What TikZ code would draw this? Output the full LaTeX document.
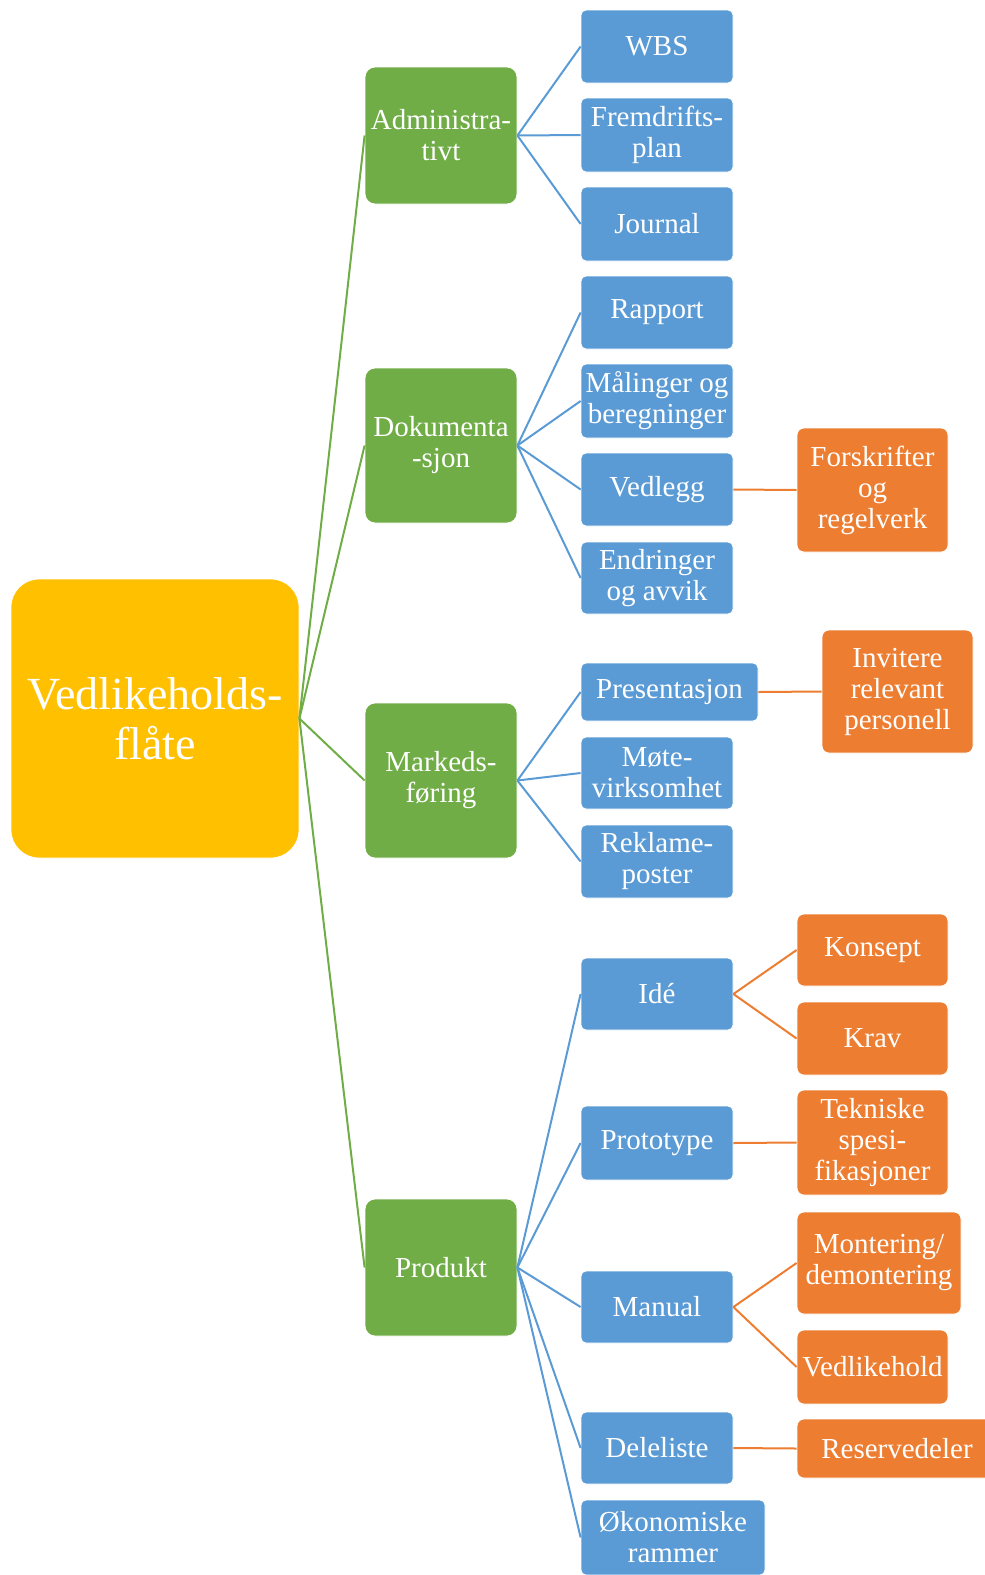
\documentclass[tikz,border=0pt]{standalone}
\usepackage{fontspec}
\setmainfont{Liberation Serif}
\definecolor{cyel}{HTML}{FFC000}
\definecolor{cgrn}{HTML}{70AD47}
\definecolor{cblu}{HTML}{5B9BD5}
\definecolor{corg}{HTML}{ED7D31}
\begin{document}
\begin{tikzpicture}[x=1pt,y=-1pt,
  base/.style={draw=white,line width=0.8pt,text=white,align=center,inner sep=0pt,font=\fontsize{29}{31}\selectfont},
  rootbox/.style={base,fill=cyel,rounded corners=28pt,minimum width=288pt,minimum height=279pt,font=\fontsize{46}{50}\selectfont},
  grnbox/.style={base,fill=cgrn,rounded corners=10pt,minimum width=152pt},
  blubox/.style={base,fill=cblu,rounded corners=5pt,minimum width=152pt},
  orgbox/.style={base,fill=corg,rounded corners=7pt,minimum width=151pt},
  gline/.style={draw=cgrn,line width=2pt},
  bline/.style={draw=cblu,line width=2pt},
  oline/.style={draw=corg,line width=2pt}]
\useasboundingbox (0,0) rectangle (985,1575);
\begin{scope}
\clip (0,0) rectangle (985,1575);
% root
\node[rootbox] (root) at (155,718.5) {Vedlikeholds-\\fl\aa te};
% green
\node[grnbox,minimum height=137pt] (adm) at (441,135.5) {Administra-\\tivt};
\node[grnbox,minimum height=155pt] (dok) at (441,445.5) {Dokumenta\\-sjon};
\node[grnbox,minimum height=155pt] (mark) at (441,780.5) {Markeds-\\f\o ring};
\node[grnbox,minimum height=137pt] (prod) at (441,1267.5) {Produkt};
% blue
\node[blubox,minimum height=73pt] (wbs) at (657,46.5) {WBS};
\node[blubox,minimum height=74pt] (frem) at (657,135) {Fremdrifts-\\plan};
\node[blubox,minimum height=74pt] (jour) at (657,224) {Journal};
\node[blubox,minimum height=73pt] (rap) at (657,312.5) {Rapport};
\node[blubox,minimum height=74pt] (mal) at (657,401) {M\aa linger og\\beregninger};
\node[blubox,minimum height=73pt] (ved) at (657,489.5) {Vedlegg};
\node[blubox,minimum height=72pt] (endr) at (657,578) {Endringer\\og avvik};
\node[blubox,minimum width=177pt,minimum height=58pt] (pres) at (669.5,692) {Presentasjon};
\node[blubox,minimum height=72pt] (mote) at (657,773) {M\o te-\\virksomhet};
\node[blubox,minimum height=73pt] (rekl) at (657,861.5) {Reklame-\\poster};
\node[blubox,minimum height=72pt] (ide) at (657,994) {Id\'e};
\node[blubox,minimum height=74pt] (prot) at (657,1143) {Prototype};
\node[blubox,minimum height=72pt] (man) at (657,1307) {Manual};
\node[blubox,minimum height=72pt] (dele) at (657,1448) {Deleliste};
\node[blubox,minimum width=184pt,minimum height=75pt] (oko) at (673,1537.5) {\O konomiske\\rammer};
% orange
\node[orgbox,minimum height=124pt] (fors) at (872.5,490) {Forskrifter\\og\\regelverk};
\node[orgbox,minimum height=123pt] (inv) at (897.5,691.5) {Invitere\\relevant\\personell};
\node[orgbox,minimum height=72pt] (kons) at (872.5,950) {Konsept};
\node[orgbox,minimum height=73pt] (krav) at (872.5,1038.5) {Krav};
\node[orgbox,minimum height=105pt] (tekn) at (872.5,1142.5) {Tekniske\\spesi-\\fikasjoner};
\node[orgbox,minimum width=164pt,minimum height=102pt] (mont) at (879,1263) {Montering/\\demontering};
\node[orgbox,minimum height=74pt] (vedl) at (872.5,1367) {Vedlikehold};
\node[orgbox,minimum width=200pt,minimum height=59pt] (res) at (897,1448.5) {Reservedeler};
% green connectors
\foreach \g in {adm,dok,mark,prod} \draw[gline] (root.east) -- (\g.west);
% blue connectors
\foreach \b in {wbs,frem,jour} \draw[bline] (adm.east) -- (\b.west);
\foreach \b in {rap,mal,ved,endr} \draw[bline] (dok.east) -- (\b.west);
\foreach \b in {pres,mote,rekl} \draw[bline] (mark.east) -- (\b.west);
\foreach \b in {ide,prot,man,dele,oko} \draw[bline] (prod.east) -- (\b.west);
% orange connectors
\draw[oline] (ved.east) -- (fors.west);
\draw[oline] (pres.east) -- (inv.west);
\draw[oline] (ide.east) -- (kons.west);
\draw[oline] (ide.east) -- (krav.west);
\draw[oline] (prot.east) -- (tekn.west);
\draw[oline] (man.east) -- (mont.west);
\draw[oline] (man.east) -- (vedl.west);
\draw[oline] (dele.east) -- (res.west);
\end{scope}
\end{tikzpicture}
\end{document}
